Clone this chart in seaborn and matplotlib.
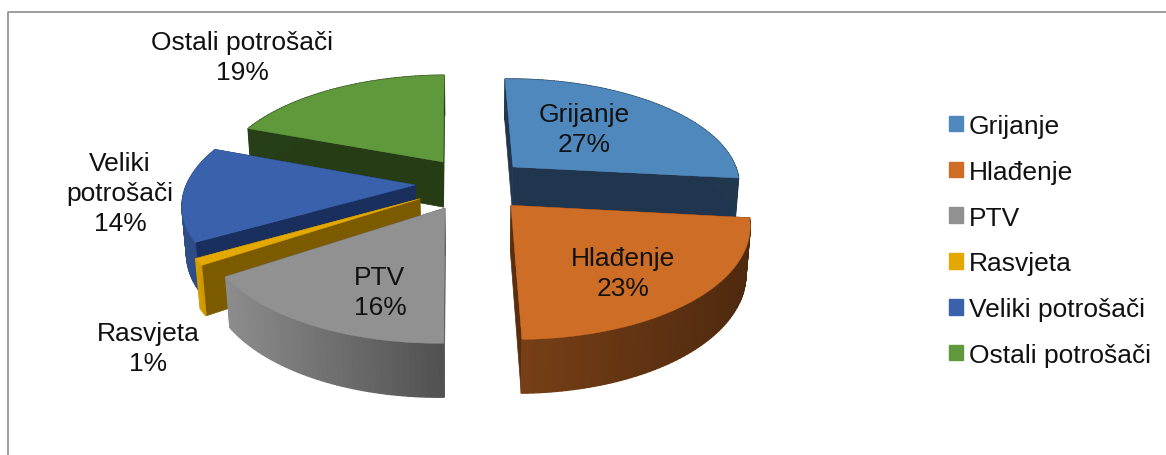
import numpy as np
import matplotlib
matplotlib.use('Agg')
import matplotlib.pyplot as plt
from matplotlib.patches import Patch
import seaborn as sns

categories = ['Grijanje', 'Hlađenje', 'PTV', 'Rasvjeta', 'Veliki potrošači', 'Ostali potrošači']
shares = [27, 23, 16, 1, 14, 19]
label_texts = ['Grijanje\n27%', 'Hlađenje\n23%', 'PTV\n16%', 'Rasvjeta\n1%', 'Veliki\npotrošači\n14%', 'Ostali potrošači\n19%']

# styling, per slice
top_colors = ['#4F88BC', '#CE6D26', '#919191', '#E3A900', '#3A62AC', '#5F993C']
cut_colors = ['#20364E', '#5A2D0E', '#5A5A5A', '#7C5A00', '#19305F', '#263C14']
rim_shade = [(0.41, 0.41), (0.58, 0.38), (0.97, 0.56), (0.95, 0.90), (0.80, 0.75), (0.41, 0.41)]
# how far each slice is pulled out, in pie radii (sideways, back)
explode = [(0.157, 0.155), (0.14, -0.204), (-0.14, -0.228), (-0.249, -0.145), (-0.275, -0.019), (-0.158, 0.205)]
draw_order = [5, 0, 4, 3, 1, 2]
label_xy = [(584, 130), (623, 274), (380, 293), (148, 349), (120, 194), (242, 58)]

# pixel geometry of the tilted pie
cx, cy = 478, 184
a, b, c, d, g = 228, 106, 0.153, 47, 0.015
start_angle = -1

sns.set_theme(style='white')
plt.rcParams['font.family'] = ['Liberation Sans', 'DejaVu Sans']
palette = sns.color_palette(top_colors)


def project(u, v, z=0.0):
    w = 1 + c * v + g * z
    return cx + a * u / w, cy - (b * v - d * z) / w


def shade(color, f):
    return tuple(np.array(matplotlib.colors.to_rgb(color)) * f)


fig = plt.figure(figsize=(11.66, 4.56), dpi=100)
ax = fig.add_axes([0, 0, 1, 1])
ax.set_xlim(0, 1166)
ax.set_ylim(456, 0)
ax.axis('off')

# chart frame, only top and left show
ax.plot([8, 8, 1166], [456, 13, 13], color='#8E8E8E', lw=1.2)

edges = start_angle + np.cumsum([0] + shares) * 3.6
for i in draw_order:
    t0, t1 = np.radians(edges[i]), np.radians(edges[i + 1])
    ou, ov = explode[i]
    th = np.linspace(t0, t1, max(int(shares[i] * 3), 4))
    u, v = ou + np.sin(th), ov + np.cos(th)

    # cut faces
    for tt in (t0, t1):
        eu, ev = ou + np.sin(tt), ov + np.cos(tt)
        px, py = zip(project(ou, ov), project(eu, ev), project(eu, ev, 1), project(ou, ov, 1))
        ax.fill(px, py, color=cut_colors[i], lw=0.5)

    # outer rim, shaded strip by strip
    xs = project(u, v)[0]
    for k in range(len(th) - 1):
        f = np.interp(xs[k], [xs.min(), xs.max()], rim_shade[i])
        px, py = zip(project(u[k], v[k]), project(u[k + 1], v[k + 1]),
                     project(u[k + 1], v[k + 1], 1), project(u[k], v[k], 1))
        ax.fill(px, py, color=shade(top_colors[i], f), lw=1)

    # top face
    px, py = project(np.r_[ou, u], np.r_[ov, v])
    ax.fill(px, py, color=palette[i], lw=0.3)

for txt, (x, y) in zip(label_texts, label_xy):
    ax.text(x, y, txt, ha='center', va='center', fontsize=19, color='#111111', linespacing=1.29)

handles = [Patch(color=palette[i], label=categories[i]) for i in range(len(categories))]
ax.legend(handles=handles, loc='upper left', bbox_to_anchor=(949 / 1166, 1 - 115 / 456), frameon=False,
          fontsize=19, handlelength=0.53, handleheight=0.53, handletextpad=0.22,
          labelspacing=0.826, borderpad=0, borderaxespad=0, labelcolor='#111111')

fig.savefig('out.png', dpi=100)
